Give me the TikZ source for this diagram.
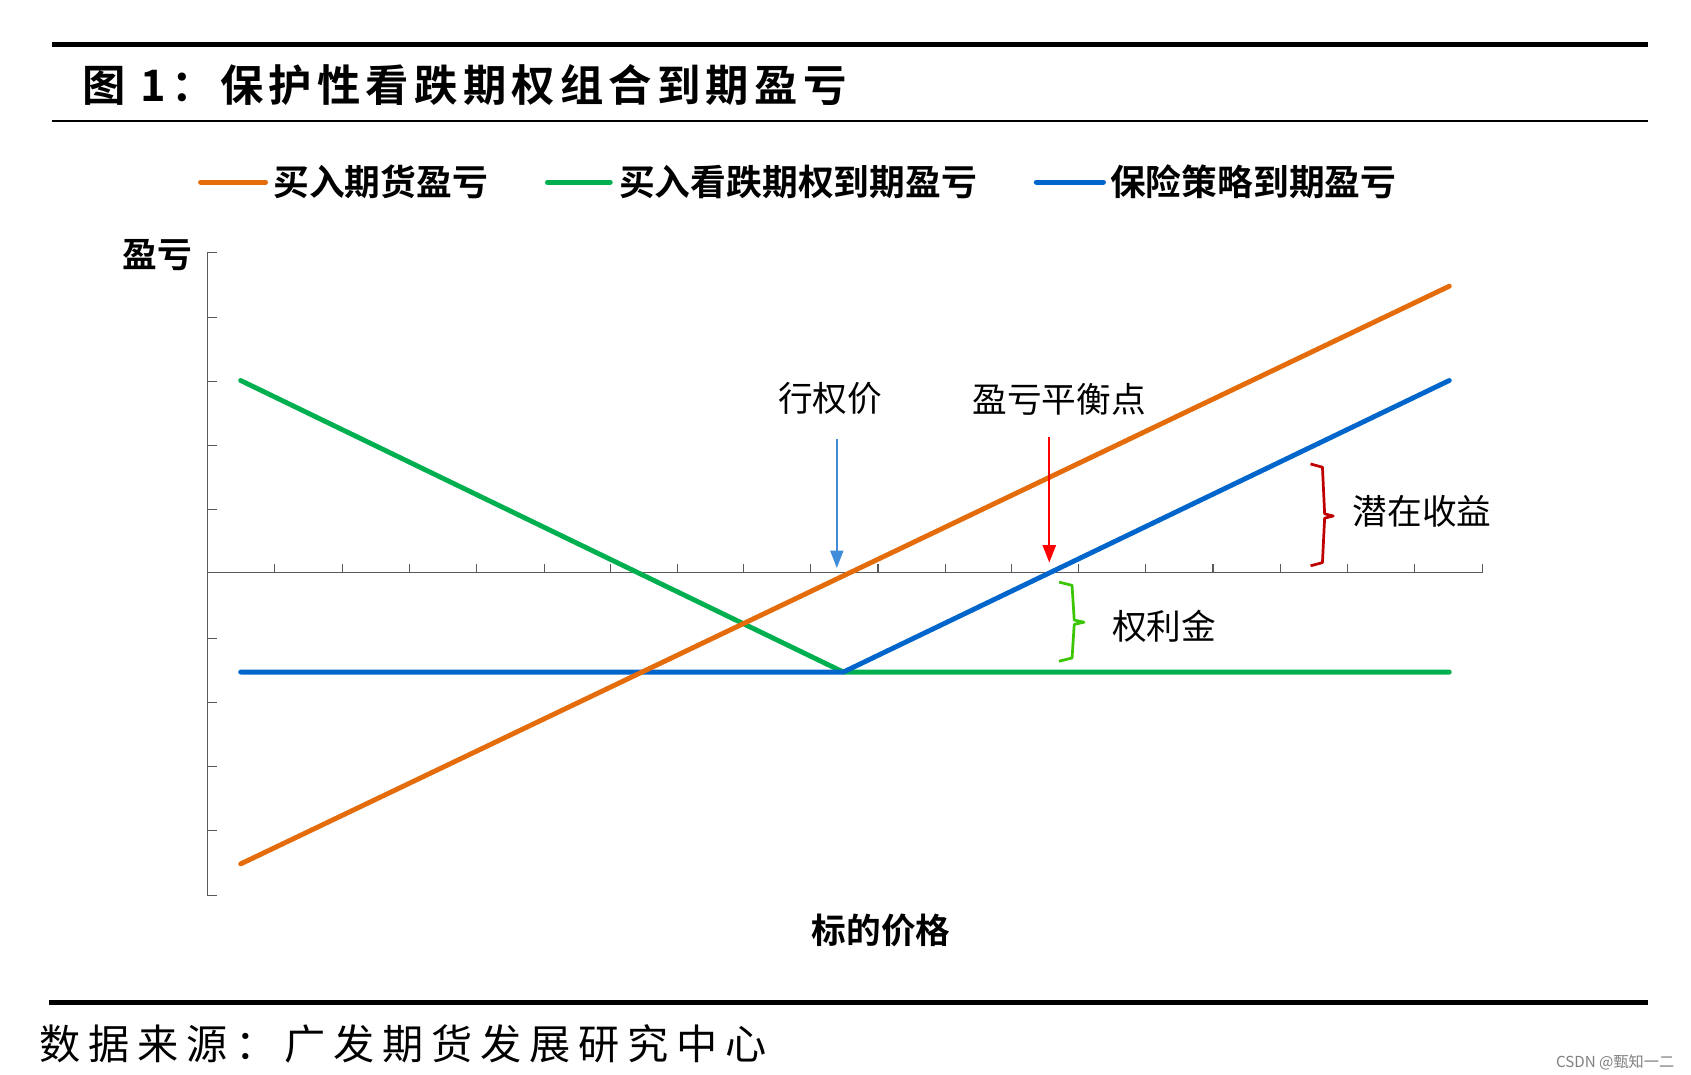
\documentclass[tikz,border=0pt]{standalone}
\usepackage{fontspec}
\setmainfont{Noto Sans CJK SC}
\newfontfamily\cjkb{Noto Sans CJK SC Bold}
\newfontfamily\cjkbs[LetterSpace=12]{Noto Sans CJK SC Bold}
\newfontfamily\cjks[LetterSpace=19]{Noto Sans CJK SC}
\usetikzlibrary{arrows.meta}
\definecolor{cor}{RGB}{228,108,10}
\definecolor{cgr}{RGB}{0,176,80}
\definecolor{cbl}{RGB}{0,102,204}
\tikzset{pl/.style={line width=4.5pt,line cap=round},
 lab/.style={inner sep=0pt,font=\fontsize{32}{32}\selectfont},
 tk/.style={line width=1pt,gray!70!black}}
\begin{document}
\begin{tikzpicture}[x=1pt,y=-1pt]
\useasboundingbox (0,0) rectangle (1560,991);
\fill[white] (0,0) rectangle (1560,991);
\draw[line width=5pt] (48,41) -- (1520,41);
\draw[line width=2pt] (48,112) -- (1520,112);
\node[anchor=west,inner sep=0pt,font=\cjkbs\fontsize{40}{40}\selectfont] (title) at (76,78) {图 1：保护性看跌期权组合到期盈亏};
% legend
\coordinate (l1a) at (185,168); \coordinate (l1b) at (245,168);
\draw[pl,cor] (l1a) -- (l1b);
\node[lab,anchor=west,font=\cjkb\fontsize{33}{33}\selectfont] (t1) at (252,168) {买入期货盈亏};
\coordinate (l2a) at (505,168); \coordinate (l2b) at (563,168);
\draw[pl,cgr] (l2a) -- (l2b);
\node[lab,anchor=west,font=\cjkb\fontsize{33}{33}\selectfont] (t2) at (571,168) {买入看跌期权到期盈亏};
\coordinate (l3a) at (956,168); \coordinate (l3b) at (1018,168);
\draw[pl,cbl] (l3a) -- (l3b);
\node[lab,anchor=west,font=\cjkb\fontsize{33}{33}\selectfont] (t3) at (1024,168) {保险策略到期盈亏};
% axes
\coordinate (yt) at (191,233); \coordinate (yb) at (191,826);
\coordinate (xl) at (191,528); \coordinate (xr) at (1368,528);
\draw[tk] (yt) -- (yb);
\draw[tk] (xl) -- (xr);
\foreach \y in {233,293,352,411,470,589,648,707,766,826} \draw[tk] (191,\y) -- (200,\y);
\foreach \x in {253,316,378,440,502,563,625,686,748,810,872,933,995,1057,1119,1181,1243,1305,1368} \draw[tk] (\x,528) -- (\x,520);
\node[lab,font=\cjkb\fontsize{32}{32}\selectfont] (ylab) at (145,235) {盈亏};
\node[lab,font=\cjkb\fontsize{32}{32}\selectfont] (xlab) at (813,858) {标的价格};
% lines
\coordinate (o1) at (222,797); \coordinate (o2) at (1337,264);
\coordinate (g1) at (222,351); \coordinate (k) at (778,620); \coordinate (g3) at (1337,620);
\coordinate (b1) at (222,620); \coordinate (b3) at (1337,351);
\draw[pl,cgr,line join=round] (g1) -- (k) -- (g3);
\draw[pl,cbl,line join=round] (b1) -- (k) -- (b3);
\draw[pl,cor] (o1) -- (o2);
% annotations
\node[lab] (strike) at (766,368) {行权价};
\node[lab] (be) at (977,368) {盈亏平衡点};
\coordinate (a1s) at (772,405); \coordinate (a1e) at (772,524);
\draw[-{Triangle[length=16pt,width=12pt]},line width=1.5pt,cbl!75] (a1s) -- (a1e);
\coordinate (a2s) at (968,403); \coordinate (a2e) at (968,519);
\draw[-{Triangle[length=16pt,width=12pt]},line width=2pt,red] (a2s) -- (a2e);
\draw[line width=2.5pt,red!75!black,line join=round] (1209,428) -- (1220,431) -- (1222,474) -- (1230,476) -- (1222,478) -- (1220,519) -- (1209,522);
\node[lab] (gain) at (1312,472) {潜在收益};
\draw[line width=2.5pt,green!55!olive,line join=round] (977,537) -- (989,540) -- (991,572) -- (1000,574) -- (991,576) -- (989,607) -- (977,610);
\node[lab] (prem) at (1074,578) {权利金};
% footer
\draw[line width=5pt] (45,925) -- (1520,925);
\node[anchor=west,inner sep=0pt,font=\cjks\fontsize{38}{38}\selectfont] (src) at (36,963) {数据来源：广发期货发展研究中心};
\node[inner sep=0pt,text=gray,font=\fontsize{14}{14}\selectfont] (wm) at (1490,980) {CSDN @甄知一二};
\end{tikzpicture}
\end{document}
